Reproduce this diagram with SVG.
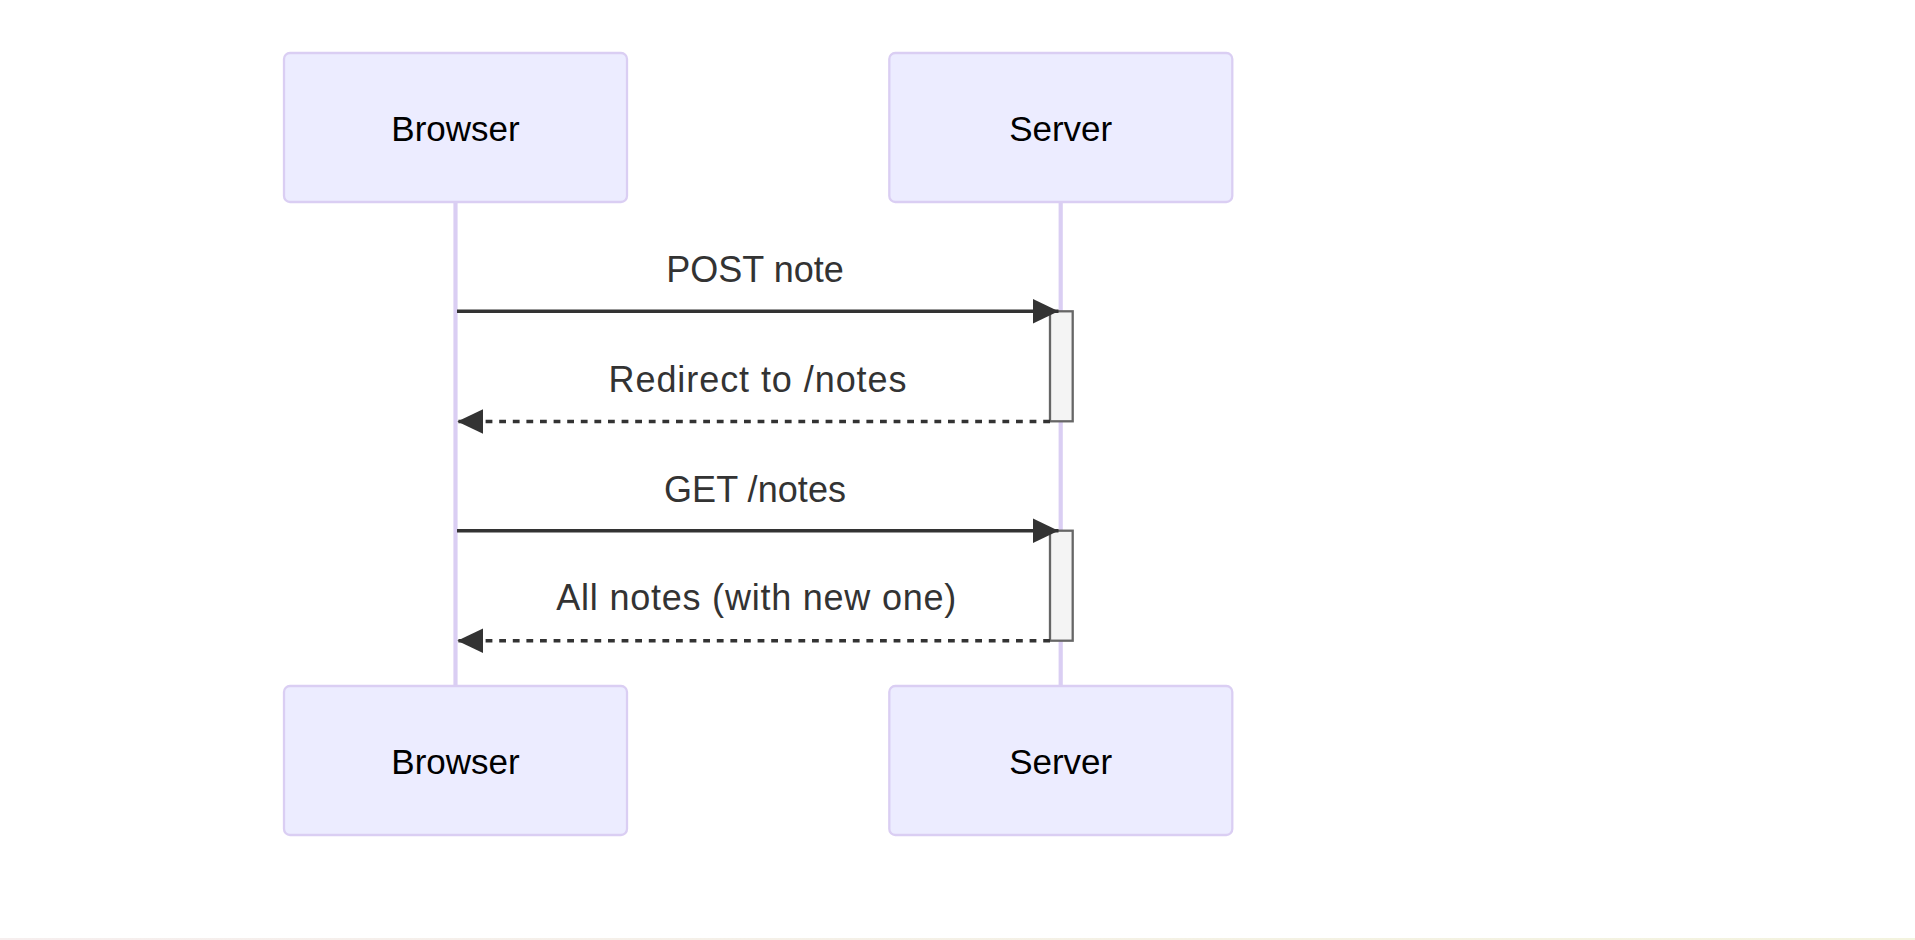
<svg xmlns="http://www.w3.org/2000/svg" width="1915" height="940" viewBox="0 0 1915 940">
<style>
.actor{fill:#ECECFF;stroke:#DACEF3;stroke-width:2.3}
.actorText{font-family:"Liberation Sans",Arial,sans-serif;font-size:35px;fill:#000;text-anchor:middle}
.life{stroke:#DACEF3;stroke-width:4.2;fill:none}
.msgText{font-family:"Liberation Sans",Arial,sans-serif;font-size:36px;fill:#333;text-anchor:middle}
.msg{stroke:#333;stroke-width:3.4;fill:none}
.dotted{stroke-dasharray:6.8 6.8}
.act{fill:#F4F4F4;stroke:#666;stroke-width:2.3}
</style>
<defs>
<marker id="arrow" markerUnits="userSpaceOnUse" markerWidth="26" markerHeight="26" viewBox="0 0 24 23" refX="24" refY="11.5" orient="auto">
<path d="M0,0 L24,11.5 L0,23 Z" fill="#333"/>
</marker>
<linearGradient id="foot" x1="0" x2="1" y1="0" y2="0">
<stop offset="0" stop-color="#F6EEEE"/>
<stop offset="1" stop-color="#F3F3DE"/>
</linearGradient>
</defs>
<rect x="0" y="0" width="1915" height="940" fill="#FFFFFF"/>
<rect x="0" y="938" width="1915" height="2" fill="url(#foot)"/>
<g id="lifelines">
<line class="life" x1="455.5" y1="202" x2="455.5" y2="686"/>
<line class="life" x1="1060.7" y1="202" x2="1060.7" y2="686"/>
</g>
<g id="actor-browser-top">
<rect class="actor" x="284" y="53" width="343" height="149" rx="6" ry="6"/>
<text class="actorText" x="455.5" y="140.5">Browser</text>
</g>
<g id="actor-server-top">
<rect class="actor" x="889.3" y="53" width="343" height="149" rx="6" ry="6"/>
<text class="actorText" x="1060.7" y="140.5">Server</text>
</g>
<g id="actor-browser-bottom">
<rect class="actor" x="284" y="686" width="343" height="149" rx="6" ry="6"/>
<text class="actorText" x="455.5" y="774">Browser</text>
</g>
<g id="actor-server-bottom">
<rect class="actor" x="889.3" y="686" width="343" height="149" rx="6" ry="6"/>
<text class="actorText" x="1060.7" y="774">Server</text>
</g>
<g id="activation-1">
<rect class="act" x="1050" y="311.3" width="22.7" height="110"/>
</g>
<g id="activation-2">
<rect class="act" x="1050" y="530.7" width="22.7" height="110"/>
</g>
<g id="connectors">
<line class="msg" x1="457" y1="311.3" x2="1058.5" y2="311.3" marker-end="url(#arrow)"/>
<text class="msgText" x="755" y="281.7">POST note</text>
<line class="msg dotted" x1="1050" y1="421.5" x2="457.3" y2="421.5" marker-end="url(#arrow)"/>
<text class="msgText" x="757.5" y="391.7" textLength="298" lengthAdjust="spacing">Redirect to /notes</text>
<line class="msg" x1="457" y1="530.7" x2="1058.5" y2="530.7" marker-end="url(#arrow)"/>
<text class="msgText" x="755" y="502.3" textLength="182" lengthAdjust="spacing">GET /notes</text>
<line class="msg dotted" x1="1050" y1="640.7" x2="457.3" y2="640.7" marker-end="url(#arrow)"/>
<text class="msgText" x="756.3" y="610" textLength="400" lengthAdjust="spacing">All notes (with new one)</text>
</g>
</svg>
